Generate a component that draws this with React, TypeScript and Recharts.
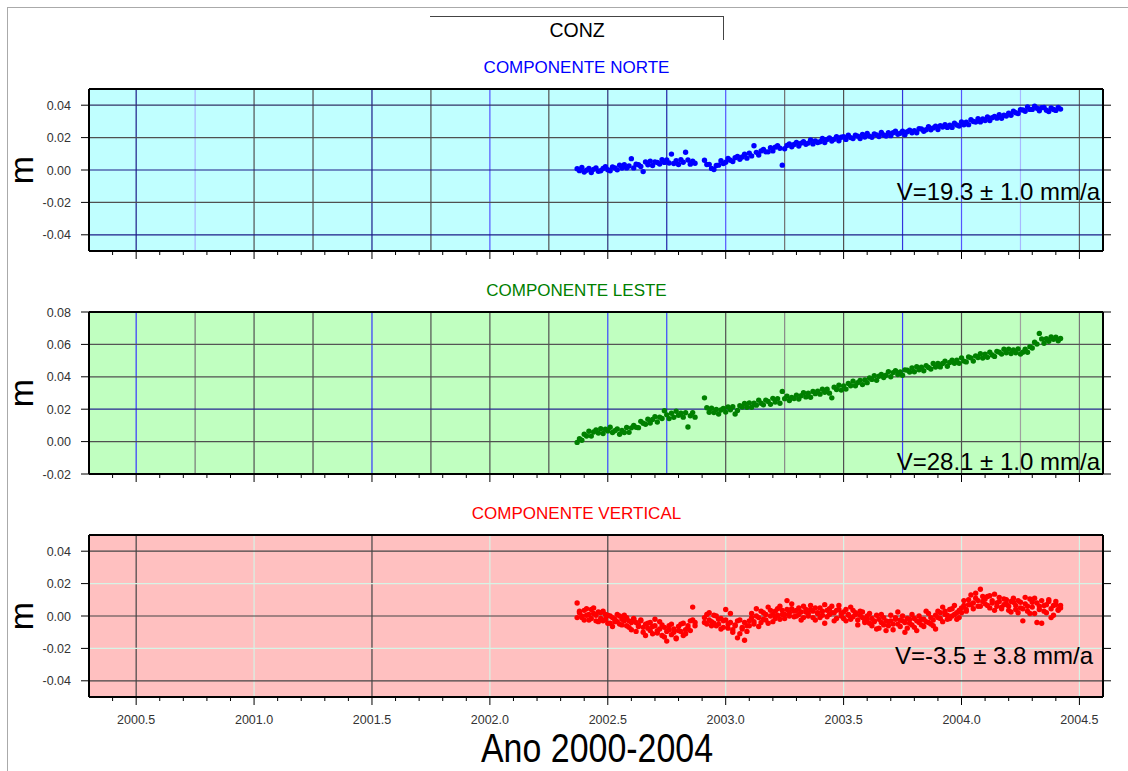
import React from 'react';
import { ScatterChart, Scatter, XAxis, YAxis, CartesianGrid, ReferenceLine } from 'recharts';

// Epochs (decimal years) of the daily solutions
const years = [
  2002.37, 2002.38, 2002.39, 2002.40, 2002.41, 2002.42, 2002.43, 2002.44, 2002.45, 2002.46,
  2002.47, 2002.48, 2002.49, 2002.50, 2002.51, 2002.52, 2002.53, 2002.54, 2002.55, 2002.56,
  2002.57, 2002.58, 2002.59, 2002.60, 2002.61, 2002.62, 2002.63, 2002.64, 2002.65, 2002.66,
  2002.67, 2002.68, 2002.69, 2002.70, 2002.71, 2002.72, 2002.73, 2002.74, 2002.75, 2002.76,
  2002.77, 2002.78, 2002.79, 2002.80, 2002.81, 2002.82, 2002.83, 2002.84, 2002.85, 2002.86, 2002.87,
  2002.91, 2002.92, 2002.93, 2002.94, 2002.95, 2002.96, 2002.97, 2002.98, 2002.99,
  2003.00, 2003.01, 2003.02, 2003.03, 2003.04, 2003.05, 2003.06, 2003.07, 2003.08, 2003.09,
  2003.10, 2003.11, 2003.12, 2003.13, 2003.14, 2003.15, 2003.16, 2003.17, 2003.18, 2003.19,
  2003.20, 2003.21, 2003.22, 2003.23, 2003.24, 2003.25, 2003.26, 2003.27, 2003.28, 2003.29,
  2003.30, 2003.31, 2003.32, 2003.33, 2003.34, 2003.35, 2003.36, 2003.37, 2003.38, 2003.39,
  2003.40, 2003.41, 2003.42, 2003.43, 2003.44, 2003.45, 2003.46, 2003.47, 2003.48, 2003.49,
  2003.50, 2003.51, 2003.52, 2003.53, 2003.54, 2003.55, 2003.56, 2003.57, 2003.58, 2003.59,
  2003.60, 2003.61, 2003.62, 2003.63, 2003.64, 2003.65, 2003.66, 2003.67, 2003.68, 2003.69,
  2003.70, 2003.71, 2003.72, 2003.73, 2003.74, 2003.75, 2003.76, 2003.77, 2003.78, 2003.79,
  2003.80, 2003.81, 2003.82, 2003.83, 2003.84, 2003.85, 2003.86, 2003.87, 2003.88, 2003.89,
  2003.90, 2003.91, 2003.92, 2003.93, 2003.94, 2003.95, 2003.96, 2003.97, 2003.98, 2003.99,
  2004.00, 2004.01, 2004.02, 2004.03, 2004.04, 2004.05, 2004.06, 2004.07, 2004.08, 2004.09,
  2004.10, 2004.11, 2004.12, 2004.13, 2004.14, 2004.15, 2004.16, 2004.17, 2004.18, 2004.19,
  2004.20, 2004.21, 2004.22, 2004.23, 2004.24, 2004.25, 2004.26, 2004.27, 2004.28, 2004.29,
  2004.30, 2004.31, 2004.32, 2004.33, 2004.34, 2004.35, 2004.36, 2004.37, 2004.38, 2004.39,
  2004.40, 2004.41, 2004.42,
];

// North component (mm)
const northMm = [
  0.8, -0.4, 1.5, -1.2, -0.2, 1.0, -1.5, 0.4, 1.2, -0.8,
  -0.5, 0.9, 2.1, 0.2, -0.5, 1.9, 1.2, 0.1, 2.9, 1.2,
  3.2, 1.3, 2.5, 7.0, 1.3, 3.6, 3.2, 2.2, -1.0, 5.0,
  3.2, 5.5, 2.8, 5.0, 4.6, 3.7, 6.4, 4.7, 6.2, 4.3,
  9.8, 4.0, 5.7, 3.4, 6.3, 4.8, 11.0, 6.2, 3.6, 5.4, 4.2,
  6.0, 3.4, 3.5, 1.0, 0.3, 2.8, 3.0, 5.7, 4.0,
  4.8, 7.2, 6.0, 5.2, 7.6, 8.3, 6.6, 8.0, 9.7, 7.3,
  10.4, 8.7, 15.0, 10.9, 9.3, 11.8, 12.7, 11.2, 11.2, 13.8,
  11.8, 14.1, 15.0, 13.4, 3.0, 13.1, 15.2, 16.1, 14.3, 15.7,
  17.0, 14.8, 16.6, 17.4, 15.9, 16.6, 18.5, 16.1, 17.9, 17.0,
  17.4, 19.4, 17.0, 18.9, 19.8, 17.9, 19.0, 20.6, 18.1, 20.2,
  20.5, 18.9, 21.5, 20.0, 19.4, 21.5, 20.9, 19.4, 22.0, 20.4,
  22.5, 20.9, 20.2, 22.2, 21.7, 20.7, 23.2, 21.6, 21.0, 23.0,
  21.2, 23.0, 23.9, 22.0, 22.7, 24.0, 21.7, 23.6, 24.6, 23.0,
  24.3, 23.0, 25.5, 25.3, 23.9, 24.8, 26.7, 24.8, 26.0, 27.0,
  25.0, 27.4, 26.5, 28.0, 26.3, 27.6, 26.3, 28.9, 27.8, 27.1,
  29.6, 27.9, 29.5, 28.0, 31.0, 29.9, 29.6, 31.6, 29.7, 31.5,
  30.5, 32.7, 30.5, 32.3, 33.1, 32.0, 34.1, 31.9, 33.8, 33.3,
  35.1, 33.8, 36.3, 35.3, 34.9, 37.2, 37.0, 36.3, 38.9, 37.4,
  37.4, 39.4, 38.1, 36.6, 38.5, 38.6, 36.9, 36.1, 38.3, 37.3,
  36.8, 38.6, 37.6,
];

// East component (mm)
const eastMm = [
  -0.5, 1.8, 0.8, 4.5, 3.5, 6.4, 3.4, 5.9, 7.2, 5.3,
  8.0, 5.0, 7.6, 6.6, 8.9, 5.6, 6.7, 7.8, 4.5, 6.9,
  5.6, 8.7, 5.7, 8.5, 10.0, 8.8, 8.6, 12.5, 11.3, 10.7,
  13.8, 11.5, 13.6, 15.4, 12.1, 15.1, 14.3, 19.0, 16.5, 14.2,
  17.5, 15.0, 18.7, 16.2, 17.5, 15.1, 17.8, 9.0, 16.0, 17.9, 15.1,
  27.0, 20.9, 18.1, 20.6, 17.9, 19.8, 17.0, 19.5, 20.5,
  18.2, 21.4, 19.7, 21.5, 17.0, 19.2, 22.2, 21.4, 23.6, 21.2,
  23.9, 21.2, 23.7, 22.5, 25.6, 23.7, 22.7, 25.6, 24.8, 23.0,
  26.7, 24.4, 26.5, 23.7, 31.0, 26.5, 28.1, 25.4, 27.2, 26.6,
  28.7, 26.3, 28.3, 30.2, 27.6, 29.8, 27.4, 31.0, 29.6, 31.1,
  29.3, 32.3, 30.5, 32.3, 29.9, 27.0, 33.6, 32.2, 34.8, 31.8,
  34.4, 32.4, 35.9, 34.5, 37.3, 34.5, 36.4, 37.8, 35.2, 38.0,
  36.4, 39.3, 38.4, 40.7, 37.8, 40.3, 41.5, 39.6, 41.0, 43.2,
  40.0, 42.6, 43.8, 41.4, 43.0, 41.0, 44.3, 44.1, 42.9, 45.4,
  43.1, 46.2, 44.3, 45.9, 43.7, 46.9, 45.8, 44.8, 48.2, 46.0,
  48.2, 46.1, 48.2, 49.6, 46.5, 48.8, 50.3, 48.3, 50.3, 48.3,
  51.7, 49.7, 49.2, 52.2, 51.7, 49.7, 52.9, 51.9, 54.3, 51.6,
  54.0, 52.0, 55.2, 53.5, 52.6, 55.7, 55.2, 54.0, 57.0, 54.8,
  57.1, 54.4, 56.6, 54.8, 57.2, 54.1, 55.2, 57.0, 55.2, 58.6,
  57.8, 61.4, 60.2, 66.8, 63.4, 60.7, 63.5, 61.9, 64.6, 63.2,
  64.4, 62.2, 63.6,
];

// Vertical component (mm), two observations read per epoch band
const vertAMm = [
  8.0, 2.0, -1.0, 3.5, 0.5, -2.5, 4.0, 1.5, -3.0, 2.5,
  -1.5, 3.0, -2.0, 0.5, -4.5, -1.0, -3.5, 1.0, -5.0, -2.0,
  0.5, -6.0, -3.0, -8.5, -1.5, -4.0, -6.5, -2.5, -10.0, -5.0,
  -7.5, -4.0, -11.0, -6.0, -9.0, -3.5, -12.0, -7.0, -15.5, -8.5,
  -5.0, -10.0, -13.5, -6.5, -9.5, -4.5, -11.0, -7.5, -3.0, 5.5, -6.0,
  -1.0, -5.0, 2.0, -3.5, 0.5, -6.0, -2.0, -8.0, -3.0,
  4.0, -7.5, -4.0, -10.0, -5.5, -13.5, -2.5, -8.0, -15.0, -6.0,
  -3.0, 1.5, -5.0, 4.5, -1.0, -4.0, 2.0, -2.5, 5.5, 0.0,
  -3.5, 3.0, 0.5, 6.0, 1.0, -1.5, 4.0, 2.0, 7.5, 3.0,
  0.0, 5.0, 2.5, -1.0, 4.0, 1.5, 6.5, 3.0, -2.5, 2.0,
  5.0, 0.5, -4.5, 3.5, 1.0, 6.0, 2.0, -1.5, 4.0, 0.0,
  2.5, -3.0, 1.0, 5.5, -0.5, 2.0, -2.5, 3.0, -1.0, -4.0,
  -2.0, 1.5, -6.0, -3.0, 0.5, -7.5, -4.0, -1.0, -9.0, -3.5,
  0.5, -5.0, -2.0, 2.5, -6.5, -3.0, -10.0, -1.5, -4.5, 1.0,
  -7.0, -3.0, 0.0, -5.5, -2.0, 3.0, -4.0, -1.0, -6.0, 0.5,
  3.0, -1.5, 5.5, 1.0, -2.0, 4.0, 0.0, 6.5, 2.0, -1.0,
  5.0, 9.5, 4.0, 7.0, 13.0, 8.0, 11.0, 6.0, 16.5, 9.0,
  7.5, 12.0, 5.0, 9.5, 3.5, 8.0, 11.5, 4.5, 7.0, 10.0,
  6.0, 2.5, 8.5, 4.0, 9.5, 5.0, -3.0, 7.5, 3.0, 10.5,
  5.5, 1.5, 8.0, 4.0, -4.5, 6.5, 2.0, 9.0, 4.5, 0.5,
  7.0, 3.5, 5.0,
];

const vertBMm = [
  -1.0, 3.0, 0.0, -2.5, 4.5, 1.0, -1.5, 5.0, 0.5, -3.5,
  2.0, -3.0, 1.0, -4.5, 0.0, -6.5, -2.0, -3.5, 0.0, -5.5,
  -3.0, -1.0, -7.0, -4.0, -2.0, -9.5, -5.5, -3.0, -7.0, -12.0,
  -4.5, -9.0, -6.5, -2.0, -10.5, -8.0, -5.5, -13.0, -9.5, -6.0,
  -11.5, -8.0, -14.0, -9.0, -5.0, -12.0, -8.5, -6.0, -9.0, -2.5, -4.0,
  -4.0, 1.0, -2.5, -6.0, -4.5, 0.0, -5.0, -1.5, -7.0,
  -2.5, -5.0, 1.5, -8.5, -6.0, -3.0, -11.0, -7.0, -4.0, -9.5,
  -6.0, -1.0, -3.5, 0.0, -6.5, 3.0, -2.0, 1.0, -4.5, 3.5,
  1.0, -1.5, 4.5, -2.0, 3.5, 1.0, 9.5, 0.0, 4.5, -0.5,
  3.5, 1.0, -2.5, 6.0, 2.5, 0.0, 4.0, -1.0, 5.0, 1.5,
  -1.0, 3.0, 7.0, -0.5, 4.5, 2.0, -3.0, 3.5, 6.5, 1.5,
  -1.5, 4.0, 0.5, -2.0, 3.5, 1.0, -5.5, 0.5, 2.5, -3.0,
  0.0, -4.5, -1.5, -3.5, -8.0, -2.0, 1.0, -5.5, -3.0, -6.0,
  -3.0, -8.5, -1.0, -5.0, -2.5, 0.0, -4.0, -7.5, -2.0, -5.5,
  -1.5, -9.0, -4.0, -2.0, -6.5, -3.5, 1.5, -5.0, -2.5, -8.0,
  -1.0, 2.0, -3.5, 3.0, 0.5, -1.5, 4.5, 1.0, -2.0, 3.5,
  2.0, 6.5, 3.0, 10.0, 7.0, 4.5, 14.0, 9.5, 6.0, 12.0,
  10.5, 6.5, 12.5, 8.0, 13.5, 6.0, 9.0, 5.5, 10.5, 7.5,
  3.5, 9.0, 11.0, 6.5, 2.0, 8.5, 4.5, 11.5, 6.0, 1.5,
  8.5, 11.0, -4.0, 6.0, 9.5, 3.0, 7.0, 10.0, -1.0, 6.5,
  9.0, 4.0, 6.5,
];

// Axis ticks
const xTicks = [
  2000.4, 2000.5, 2000.6, 2000.7, 2000.8, 2000.9, 2001.0, 2001.1, 2001.2, 2001.3,
  2001.4, 2001.5, 2001.6, 2001.7, 2001.8, 2001.9, 2002.0, 2002.1, 2002.2, 2002.3,
  2002.4, 2002.5, 2002.6, 2002.7, 2002.8, 2002.9, 2003.0, 2003.1, 2003.2, 2003.3,
  2003.4, 2003.5, 2003.6, 2003.7, 2003.8, 2003.9, 2004.0, 2004.1, 2004.2, 2004.3,
  2004.4, 2004.5,
];
const ticksNV = [-0.04, -0.02, 0, 0.02, 0.04];
const ticksE = [-0.02, 0, 0.02, 0.04, 0.06, 0.08];
const gridQuarter = [2000.5, 2000.75, 2001, 2001.25, 2001.5, 2001.75, 2002, 2002.25, 2002.5, 2002.75, 2003, 2003.25, 2003.5, 2003.75, 2004, 2004.25, 2004.5];
const gridHalf = [2000.5, 2001, 2001.5, 2002, 2002.5, 2003, 2003.5, 2004, 2004.5];

// Grid line colours (styles)
const NAVY = '#1c1c88';
const DG = '#505050';
const MB = '#5555ff';
const LB = '#a8b8ff';
const B2 = '#3333dd';
const PALE = '#d6f4e6';
const northVCol = [NAVY, LB, DG, DG, NAVY, DG, MB, DG, '#303078', '#2424a8', MB, '#707070', DG, B2, MB, LB, '#666666'];
const northHCol = [NAVY, DG, NAVY, DG, '#333366'];
const eastVCol = ['#3535ff', '#777777', DG, DG, '#3535ff', DG, DG, DG, '#3a45ff', '#3a45ff', DG, '#888888', DG, '#3a3aff', DG, '#a0a0a0', '#777777'];
const eastHCol = [NAVY, DG, '#262690', DG, '#555555', '#555555'];
const vertVCol = ['#444444', PALE, '#444444', PALE, '#444444', PALE, PALE, PALE, PALE];
const vertHCol = ['#444444', PALE, '#444444', PALE, '#444444'];

const FONT = '"Liberation Sans", Arial, Helvetica, sans-serif';
const W = 1128;
const H = 771;

const northData = years.map((t, i) => ({ t, v: northMm[i] / 1000 }));
const eastData = years.map((t, i) => ({ t, v: eastMm[i] / 1000 }));
const vertAData = years.map((t, i) => ({ t, v: vertAMm[i] / 1000 }));
const vertBData = years.map((t, i) => ({ t, v: vertBMm[i] / 1000 }));

const isMajor = (v: number) => Math.abs(v * 2 - Math.round(v * 2)) < 1e-6;

const XTick = (props: any) => {
  const { x, y, payload, dir, showLabel } = props;
  const v = payload.value as number;
  const major = isMajor(v);
  const len = major ? 8 : 4;
  return (
    <g>
      <line x1={x} x2={x} y1={y} y2={y + dir * len} stroke="#000" strokeWidth={1} />
      {showLabel && major ? (
        <text x={x} y={y + 27} textAnchor="middle" fontSize={12.5} fill="#333" fontFamily={FONT}>
          {v.toFixed(1)}
        </text>
      ) : null}
    </g>
  );
};

const YTick = (props: any) => {
  const { x, y, payload, dir, showLabel } = props;
  const v = payload.value as number;
  return (
    <g>
      <line x1={x} x2={x + dir * 8} y1={y} y2={y} stroke="#000" strokeWidth={1} />
      {showLabel ? (
        <text x={x - 18} y={y} dy="0.36em" textAnchor="end" fontSize={12.5} fill="#333" fontFamily={FONT}>
          {v.toFixed(2)}
        </text>
      ) : null}
    </g>
  );
};

const dot = (color: string) => (p: any) => <circle cx={p.cx} cy={p.cy} r={2.7} fill={color} />;

type PanelProps = {
  top: number;
  bottom: number;
  bg: string;
  yDomain: [number, number];
  yTicks: number[];
  vGrid: number[];
  vCol: string[];
  hCol: string[];
  showXLabels: boolean;
  series: { data: any[]; color: string }[];
};

function Panel({ top, bottom, bg, yDomain, yTicks, vGrid, vCol, hCol, showXLabels, series }: PanelProps) {
  return (
    <div style={{ position: 'absolute', left: 0, top: 0, width: W, height: H }}>
      <ScatterChart width={W} height={H} margin={{ top: top - 10, bottom: H - bottom - 30, left: 29, right: 15 }}>
        <CartesianGrid fill={bg} fillOpacity={1} horizontal={false} vertical={false} />
        <XAxis
          type="number"
          dataKey="t"
          domain={[2000.3, 2004.6]}
          allowDataOverflow
          ticks={xTicks}
          interval={0}
          orientation="bottom"
          height={30}
          tickSize={0}
          tickMargin={0}
          tickLine={false}
          axisLine={{ stroke: '#000', strokeWidth: 2 }}
          tick={<XTick dir={1} showLabel={showXLabels} />}
        />
        <XAxis
          xAxisId="top"
          type="number"
          domain={[2000.3, 2004.6]}
          allowDataOverflow
          ticks={xTicks}
          interval={0}
          orientation="top"
          height={10}
          tickSize={0}
          tickMargin={0}
          tickLine={false}
          axisLine={{ stroke: '#000', strokeWidth: 2 }}
          tick={<XTick dir={-1} showLabel={false} />}
        />
        <YAxis
          type="number"
          dataKey="v"
          domain={yDomain}
          allowDataOverflow
          ticks={yTicks}
          interval={0}
          width={60}
          tickSize={0}
          tickMargin={0}
          tickLine={false}
          axisLine={{ stroke: '#000', strokeWidth: 2 }}
          tick={<YTick dir={-1} showLabel={true} />}
        />
        <YAxis
          yAxisId="right"
          orientation="right"
          type="number"
          domain={yDomain}
          allowDataOverflow
          ticks={yTicks}
          interval={0}
          width={10}
          tickSize={0}
          tickMargin={0}
          tickLine={false}
          axisLine={{ stroke: '#000', strokeWidth: 2 }}
          tick={<YTick dir={1} showLabel={false} />}
        />
        {vGrid.map((gx, i) => (
          <ReferenceLine key={'v' + gx} x={gx} stroke={vCol[i]} strokeWidth={1.2} />
        ))}
        {yTicks.map((gy, i) => (
          <ReferenceLine key={'h' + gy} y={gy} stroke={hCol[i]} strokeWidth={1.2} />
        ))}
        {series.map((s, i) => (
          <Scatter key={i} data={s.data} isAnimationActive={false} shape={dot(s.color)} />
        ))}
      </ScatterChart>
    </div>
  );
}

export default function App() {
  return (
    <div style={{ position: 'absolute', left: 0, top: 0, width: W, height: H, background: '#fff', fontFamily: FONT }}>
      <Panel
        top={89}
        bottom={251}
        bg="#c0ffff"
        yDomain={[-0.05, 0.05]}
        yTicks={ticksNV}
        vGrid={gridQuarter}
        vCol={northVCol}
        hCol={northHCol}
        showXLabels={false}
        series={[{ data: northData, color: '#0000ff' }]}
      />
      <Panel
        top={312}
        bottom={474}
        bg="#c0ffc0"
        yDomain={[-0.02, 0.08]}
        yTicks={ticksE}
        vGrid={gridQuarter}
        vCol={eastVCol}
        hCol={eastHCol}
        showXLabels={false}
        series={[{ data: eastData, color: '#008000' }]}
      />
      <Panel
        top={535}
        bottom={697}
        bg="#ffc0c0"
        yDomain={[-0.05, 0.05]}
        yTicks={ticksNV}
        vGrid={gridHalf}
        vCol={vertVCol}
        hCol={vertHCol}
        showXLabels={true}
        series={[
          { data: vertAData, color: '#ff0000' },
          { data: vertBData, color: '#ff0000' },
        ]}
      />
      <svg width={W} height={H} style={{ position: 'absolute', left: 0, top: 0, pointerEvents: 'none' }} fontFamily={FONT}>
        <line x1={7} y1={7.5} x2={W} y2={7.5} stroke="#aaaaaa" strokeWidth={1} />
        <line x1={7.5} y1={7} x2={7.5} y2={H} stroke="#aaaaaa" strokeWidth={1} />
        <line x1={430} y1={16.5} x2={723.5} y2={16.5} stroke="#444" strokeWidth={1} />
        <line x1={723.5} y1={16} x2={723.5} y2={40} stroke="#444" strokeWidth={1} />
        <text x={577} y={37} textAnchor="middle" fontSize={19.5} fill="#000">CONZ</text>
        <text x={576.5} y={73} textAnchor="middle" fontSize={17} fill="#0000ff">COMPONENTE NORTE</text>
        <text x={576.5} y={296} textAnchor="middle" fontSize={17} fill="#008000">COMPONENTE LESTE</text>
        <text x={576.5} y={519} textAnchor="middle" fontSize={17} fill="#ff0000">COMPONENTE VERTICAL</text>
        <text x={33} y={170} textAnchor="middle" fontSize={34} fill="#000" transform="rotate(-90 33 170)">m</text>
        <text x={33} y={393} textAnchor="middle" fontSize={34} fill="#000" transform="rotate(-90 33 393)">m</text>
        <text x={33} y={616} textAnchor="middle" fontSize={34} fill="#000" transform="rotate(-90 33 616)">m</text>
        <text x={1100} y={200} textAnchor="end" fontSize={24} fill="#000">V=19.3 ± 1.0 mm/a</text>
        <text x={1100} y={470} textAnchor="end" fontSize={24} fill="#000">V=28.1 ± 1.0 mm/a</text>
        <text x={1093} y={664} textAnchor="end" fontSize={24} fill="#000">V=-3.5 ± 3.8 mm/a</text>
        <text x={597} y={762} textAnchor="middle" fontSize={40} fill="#000" textLength={232} lengthAdjust="spacingAndGlyphs">Ano 2000-2004</text>
      </svg>
    </div>
  );
}
